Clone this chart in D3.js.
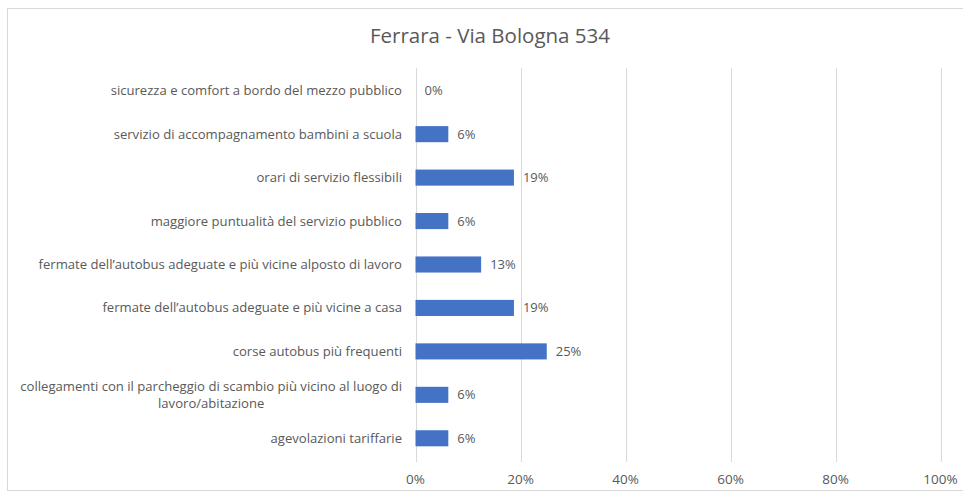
<!DOCTYPE html>
<html><head><meta charset="utf-8">
<script src="https://cdn.jsdelivr.net/npm/d3@7"></script>
<style>body{margin:0;background:#fff;}svg{display:block;}</style>
</head><body>
<svg id="c" width="963" height="493"></svg>
<script>
const title = "Ferrara - Via Bologna 534";
const categories = [
  "sicurezza e comfort a bordo del mezzo pubblico",
  "servizio di accompagnamento bambini a scuola",
  "orari di servizio flessibili",
  "maggiore puntualità del servizio pubblico",
  "fermate dell’autobus adeguate e più vicine alposto di lavoro",
  "fermate dell’autobus adeguate e più vicine a casa",
  "corse autobus più frequenti",
  "collegamenti con il parcheggio di scambio più vicino al luogo di|lavoro/abitazione",
  "agevolazioni tariffarie"
];
const values = [0, 6.25, 18.75, 6.25, 12.5, 18.75, 25, 6.25, 6.25];
const ticks = [0, 20, 40, 60, 80, 100];

const svg = d3.select("#c");
const font = "'Open Sans', sans-serif";
const grey = "#595959";

// chart frame
svg.append("rect").attr("x", 7.5).attr("y", 8.5).attr("width", 980).attr("height", 482)
  .attr("fill", "#fff").attr("stroke", "#d9d9d9").attr("stroke-width", 1);

svg.append("text").attr("x", 490).attr("y", 43).attr("text-anchor", "middle")
  .attr("font-family", font).attr("font-size", 20.5).attr("fill", grey).text(title);

const x = d3.scaleLinear().domain([0, 100]).range([415.5, 940.5]);
const y = d3.scaleBand().domain(categories).range([69, 460]).paddingInner(0.63).paddingOuter(0.315);

// gridlines
svg.append("g").selectAll("line").data(ticks).join("line")
  .attr("x1", d => Math.round(x(d)) + 0.5).attr("x2", d => Math.round(x(d)) + 0.5)
  .attr("y1", 68).attr("y2", 462)
  .attr("stroke", "#d9d9d9").attr("stroke-width", 1);

// tick labels
svg.append("g").selectAll("text").data(ticks).join("text")
  .attr("x", d => x(d)).attr("y", 484).attr("text-anchor", "middle")
  .attr("font-family", font).attr("font-size", 13.5).attr("fill", grey)
  .text(d => d + "%");

// bars
svg.append("g").selectAll("rect").data(values).join("rect")
  .attr("x", x(0)).attr("y", (d, i) => y(categories[i]))
  .attr("width", d => x(d) - x(0)).attr("height", y.bandwidth())
  .attr("fill", "#4472c4");

// data labels
svg.append("g").selectAll("text").data(values).join("text")
  .attr("x", d => x(d) + 9).attr("y", (d, i) => y(categories[i]) + y.bandwidth() / 2 + 4.5)
  .attr("font-family", font).attr("font-size", 13).attr("fill", grey)
  .text(d => Math.round(d) + "%");

// category labels
const lab = svg.append("g");
const fs = 13.1;
categories.forEach((c, i) => {
  const lines = c.split("|");
  const cy = y(c) + y.bandwidth() / 2;
  if (lines.length === 1) {
    lab.append("text").attr("x", 402).attr("y", cy + 4.5).attr("text-anchor", "end")
      .attr("font-family", font).attr("font-size", fs).attr("fill", grey).text(c);
  } else {
    const t1 = lab.append("text").attr("x", 402).attr("y", cy - 4).attr("text-anchor", "end")
      .attr("font-family", font).attr("font-size", fs).attr("fill", grey).text(lines[0]);
    const w = t1.node().getComputedTextLength();
    lab.append("text").attr("x", 402 - w / 2).attr("y", cy + 13).attr("text-anchor", "middle")
      .attr("font-family", font).attr("font-size", fs).attr("fill", grey).text(lines[1]);
  }
});
</script>
</body></html>
